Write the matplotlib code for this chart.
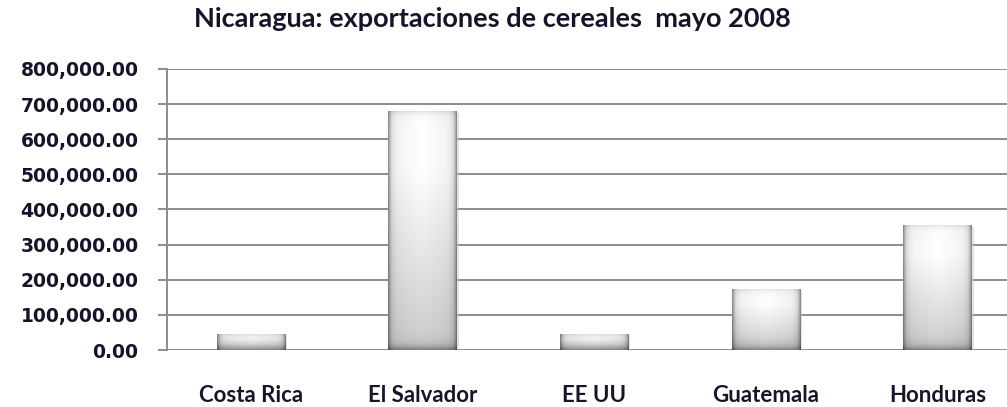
import matplotlib
matplotlib.use("Agg")
import matplotlib.pyplot as plt
import numpy as np
from matplotlib.ticker import FuncFormatter

categories = ["Costa Rica", "El Salvador", "EE UU", "Guatemala", "Honduras"]
values = [45000, 681000, 45000, 174000, 356000]
yticks = [0, 100000, 200000, 300000, 400000, 500000, 600000, 700000, 800000]
title = "Nicaragua: exportaciones de cereales  mayo 2008"

plt.rcParams['font.family'] = ['Lato', 'DejaVu Sans']

W, H = 1007, 407
fig = plt.figure(figsize=(W / 100, H / 100), dpi=100)
left, right, bottom, top = 167, 1025, 350, 69
ax = fig.add_axes([left / W, 1 - bottom / H, (right - left) / W, (bottom - top) / H])

x = np.arange(len(categories))
bars = ax.bar(x, values, width=0.40, color='none', edgecolor='none', zorder=3)

# bevelled gradient fill for each bar
nx, ny = 96, 128
u = np.linspace(0, 1, nx)
v = np.linspace(0, 1, ny)
U, V = np.meshgrid(u, v)
edge = np.minimum(U, 1 - U)
hshade = 1 - 0.42 * np.exp(-edge / 0.035) - 0.06 * (1 - np.clip(edge / 0.5, 0, 1))
vgrad = 1 - 0.20 * np.clip((V - 0.25) / 0.75, 0, 1)

for b in bars:
    x0, y0 = b.get_x(), b.get_y()
    w, h = b.get_width(), b.get_height()
    frac_px = max(h / 800000 * 281, 1.0)
    bot = 1 - 0.35 * np.exp(-(1 - V) * frac_px / 4.0)
    topb = 1 - 0.12 * np.exp(-V * frac_px / 3.0)
    shade = np.clip(hshade * vgrad * bot * topb, 0, 1)
    img = np.dstack([shade, shade, shade])
    ax.bar(x0 + w / 2 + 0.01, h, width=w, bottom=-6000, color='#c8c8c8', alpha=0.5,
           zorder=2.5, edgecolor='none')
    im = ax.imshow(img, extent=(x0, x0 + w, y0, y0 + h), aspect='auto',
                   origin='upper', zorder=3, interpolation='bilinear')
    im.set_clip_path(b)
    b.set_clip_on(False)

ax.set_xlim(-0.49, 4.51)
ax.set_ylim(0, 800000)
ax.set_yticks(yticks)
ax.yaxis.set_major_formatter(FuncFormatter(lambda val, p: f"{val:,.2f}"))
ax.set_xticks(x)
ax.set_xticklabels(categories)

ax.grid(axis='y', color='#8c8c8c', linewidth=1.4, zorder=1)
ax.set_axisbelow(True)
for s in ['top', 'right', 'bottom']:
    ax.spines[s].set_visible(False)
ax.spines['left'].set_color('#8c8c8c')
ax.spines['left'].set_linewidth(1.4)
ax.tick_params(axis='y', length=6.5, width=1.4, color='#8c8c8c', pad=14)
ax.tick_params(axis='x', length=0, pad=25)
for lab in ax.get_yticklabels():
    lab.set_fontfamily('DejaVu Sans')
    lab.set_fontsize(13.5)
    lab.set_fontweight('bold')
    lab.set_color('#15152a')
for lab in ax.get_xticklabels():
    lab.set_fontsize(16)
    lab.set_fontweight('bold')
    lab.set_color('#15152a')

fig.text(492 / W, 1 - 19 / H, title, ha='center', va='center', fontsize=19.5,
         fontweight='bold', color='#15152a')

fig.savefig("out.png", dpi=100)
